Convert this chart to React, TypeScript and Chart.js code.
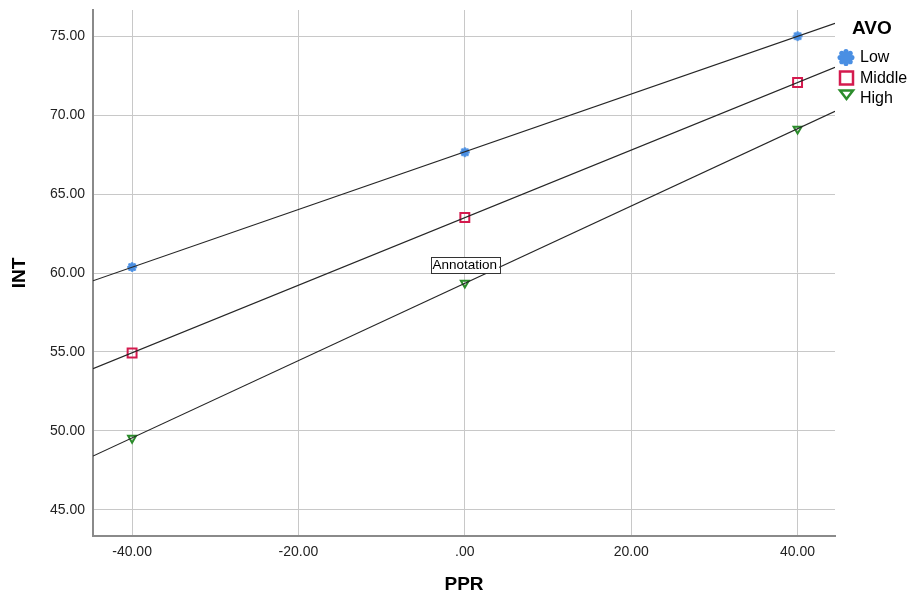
import React, { useEffect, useRef } from "react";
import { Chart, registerables } from "chart.js";

Chart.register(...registerables);

// ---- data ----
const groups = ["Low", "Middle", "High"];
const pprValues = [-40, 0, 40];
const intLow = [60.38, 67.65, 75.0];
const intMiddle = [54.94, 63.51, 72.06];
const intHigh = [49.55, 59.37, 69.12];
const xTicks = [-40, -20, 0, 20, 40];
const yTicks = [45, 50, 55, 60, 65, 70, 75];
const legendTitle = "AVO";
const xTitle = "PPR";
const yTitle = "INT";
const annotationText = "Annotation";

const colors = ["#4a8fe3", "#d41a4e", "#2b8c2b"];
const FONT = "'Liberation Sans', Arial, sans-serif";
const X_MIN = -44.7;
const X_MAX = 44.5;
const Y_MIN = 43.35;
const Y_MAX = 76.65;

function fit(xs: number[], ys: number[]) {
  const n = xs.length;
  const mx = xs.reduce((a, b) => a + b, 0) / n;
  const my = ys.reduce((a, b) => a + b, 0) / n;
  let sxy = 0;
  let sxx = 0;
  for (let i = 0; i < n; i++) {
    sxy += (xs[i] - mx) * (ys[i] - my);
    sxx += (xs[i] - mx) * (xs[i] - mx);
  }
  const b = sxy / sxx;
  const a = my - b * mx;
  return (x: number) => a + b * x;
}

function drawFlower(ctx: CanvasRenderingContext2D, cx: number, cy: number, R: number, color: string) {
  ctx.save();
  ctx.fillStyle = color;
  for (let i = 0; i < 8; i++) {
    const ang = (i * Math.PI) / 4;
    ctx.beginPath();
    ctx.arc(cx + Math.cos(ang) * R * 0.7, cy + Math.sin(ang) * R * 0.7, R * 0.3, 0, Math.PI * 2);
    ctx.fill();
  }
  ctx.beginPath();
  ctx.arc(cx, cy, R * 0.66, 0, Math.PI * 2);
  ctx.fill();
  ctx.restore();
}

function flowerImage(R: number, color: string) {
  const c = document.createElement("canvas");
  const s = Math.ceil(R * 2 + 2);
  c.width = s;
  c.height = s;
  const ctx = c.getContext("2d")!;
  drawFlower(ctx, s / 2, s / 2, R, color);
  return c;
}

const fmt = (v: number) => (v === 0 ? ".00" : v.toFixed(2));

export default function App() {
  const ref = useRef<HTMLCanvasElement | null>(null);

  useEffect(() => {
    if (!ref.current) return;
    const seriesValues = [intLow, intMiddle, intHigh];

    const pointDatasets: any[] = [
      {
        type: "scatter",
        label: groups[0],
        data: pprValues.map((x, i) => ({ x, y: intLow[i] })),
        pointStyle: flowerImage(5, colors[0]),
        order: 2,
      },
      {
        type: "scatter",
        label: groups[1],
        data: pprValues.map((x, i) => ({ x, y: intMiddle[i] })),
        pointStyle: "rect",
        pointRadius: 6.3,
        borderColor: colors[1],
        backgroundColor: "rgba(0,0,0,0)",
        borderWidth: 2,
        order: 2,
      },
      {
        type: "scatter",
        label: groups[2],
        data: pprValues.map((x, i) => ({ x, y: intHigh[i] })),
        pointStyle: "triangle",
        rotation: 180,
        pointRadius: 4.6,
        borderColor: colors[2],
        backgroundColor: "rgba(0,0,0,0)",
        borderWidth: 2,
        order: 2,
      },
    ];

    const lineDatasets: any[] = seriesValues.map((ys, i) => {
      const f = fit(pprValues, ys);
      return {
        type: "line",
        label: groups[i] + " fit",
        data: [
          { x: X_MIN, y: f(X_MIN) },
          { x: X_MAX, y: f(X_MAX) },
        ],
        borderColor: "#262626",
        borderWidth: 1.2,
        pointRadius: 0,
        fill: false,
        order: 1,
      };
    });

    const overlay = {
      id: "overlay",
      afterDraw(chart: any) {
        const ctx: CanvasRenderingContext2D = chart.ctx;
        const xs = chart.scales.x;
        const ys = chart.scales.y;
        ctx.save();
        // annotation
        const ax = xs.getPixelForValue(0);
        const ay = ys.getPixelForValue(60.5);
        ctx.font = `13.5px ${FONT}`;
        const w = ctx.measureText(annotationText).width;
        ctx.fillStyle = "#ffffff";
        ctx.fillRect(ax - w / 2 - 2, ay - 8, w + 4, 16);
        ctx.strokeStyle = "#333333";
        ctx.lineWidth = 1;
        ctx.strokeRect(Math.round(ax - w / 2 - 2) + 0.5, Math.round(ay - 8) + 0.5, Math.round(w + 4), 16);
        ctx.fillStyle = "#000000";
        ctx.textAlign = "center";
        ctx.textBaseline = "middle";
        ctx.fillText(annotationText, ax, ay + 0.5);

        // legend
        ctx.textAlign = "left";
        ctx.textBaseline = "middle";
        ctx.fillStyle = "#000000";
        ctx.font = `bold 19px ${FONT}`;
        ctx.fillText(legendTitle, 852, 29);
        ctx.font = `16px ${FONT}`;
        const ly = [57.5, 78, 98];
        const lx = 846.5;
        drawFlower(ctx, lx - 0.5, ly[0], 8.5, colors[0]);
        ctx.strokeStyle = colors[1];
        ctx.lineWidth = 2.5;
        ctx.strokeRect(lx - 6.5, ly[1] - 6.5, 13, 13);
        ctx.strokeStyle = colors[2];
        ctx.beginPath();
        ctx.moveTo(lx - 6.5, ly[2] - 7.5);
        ctx.lineTo(lx + 6.5, ly[2] - 7.5);
        ctx.lineTo(lx, ly[2] + 1);
        ctx.closePath();
        ctx.stroke();
        ctx.fillStyle = "#000000";
        groups.forEach((g, i) => ctx.fillText(g, 860, ly[i] + 0.5));
        ctx.restore();
      },
    };

    const chart = new Chart(ref.current, {
      type: "scatter",
      data: { datasets: [...lineDatasets, ...pointDatasets] },
      options: {
        animation: false,
        responsive: true,
        maintainAspectRatio: false,
        layout: { padding: { left: 0, right: 74, top: 10, bottom: 0 } },
        plugins: { legend: { display: false }, tooltip: { enabled: false } },
        scales: {
          x: {
            type: "linear",
            min: X_MIN,
            max: X_MAX,
            afterBuildTicks: (s: any) => {
              s.ticks = xTicks.map((v) => ({ value: v }));
            },
            afterFit: (s: any) => {
              s.height = 59;
              s.paddingLeft = 0;
              s.paddingRight = 0;
            },
            grid: { color: "#c8c8c8", lineWidth: 1, drawTicks: false },
            border: { display: true, color: "#8a8a8a", width: 2 },
            ticks: {
              padding: 8,
              color: "#222222",
              font: { family: FONT, size: 14 },
              callback: (v: any) => fmt(Number(v)),
              maxRotation: 0,
              autoSkip: false,
            },
            title: {
              display: true,
              text: xTitle,
              color: "#000000",
              font: { family: FONT, size: 19, weight: "bold", lineHeight: 1 },
              padding: { top: 0, bottom: 0.5 },
            },
          },
          y: {
            type: "linear",
            min: Y_MIN,
            max: Y_MAX,
            afterBuildTicks: (s: any) => {
              s.ticks = yTicks.map((v) => ({ value: v }));
            },
            afterFit: (s: any) => {
              s.width = 93;
              s.paddingTop = 0;
              s.paddingBottom = 0;
            },
            grid: { color: "#c8c8c8", lineWidth: 1, drawTicks: false },
            border: { display: true, color: "#8a8a8a", width: 2 },
            ticks: {
              padding: 8,
              color: "#222222",
              font: { family: FONT, size: 14 },
              callback: (v: any) => fmt(Number(v)),
              autoSkip: false,
            },
            title: {
              display: true,
              text: yTitle,
              color: "#000000",
              font: { family: FONT, size: 19, weight: "bold", lineHeight: 1 },
              padding: { top: 10.5, bottom: 0 },
            },
          },
        },
      } as any,
      plugins: [overlay],
    });
    return () => chart.destroy();
  }, []);

  return (
    <div style={{ position: "absolute", left: 0, top: 0, width: 909, height: 595, background: "#ffffff" }}>
      <canvas ref={ref} />
    </div>
  );
}
